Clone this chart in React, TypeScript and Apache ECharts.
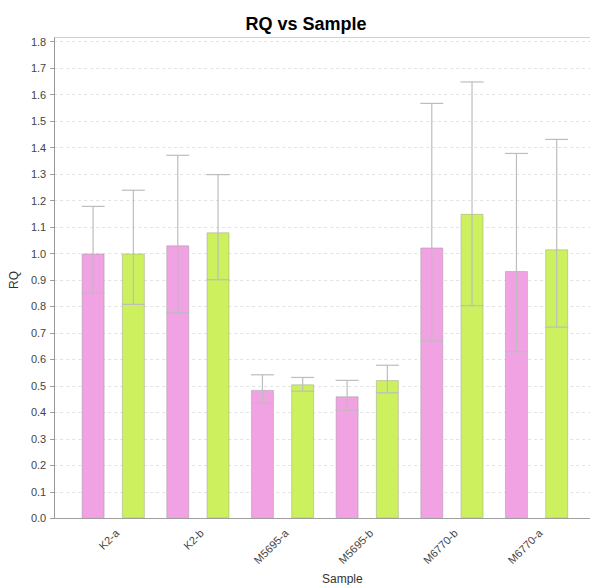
import React, { useEffect, useRef } from "react";
import * as echarts from "echarts";

// Samples on the category axis
const samples = ["K2-a", "K2-b", "M5695-a", "M5695-b", "M6770-b", "M6770-a"];

// First (pink) series: RQ with its lower / upper limits
const pinkRQ = [1.0, 1.031, 0.485, 0.461, 1.023, 0.934];
const pinkLow = [0.85, 0.776, 0.434, 0.409, 0.67, 0.629];
const pinkHigh = [1.178, 1.371, 0.542, 0.521, 1.567, 1.378];

// Second (green) series: RQ with its lower / upper limits
const greenRQ = [1.0, 1.08, 0.506, 0.522, 1.15, 1.016];
const greenLow = [0.808, 0.901, 0.48, 0.474, 0.803, 0.722];
const greenHigh = [1.239, 1.298, 0.532, 0.578, 1.648, 1.431];

// Value axis range
const yMin = 0;
const yMax = 1.8;
const yStep = 0.1;

const PINK = "#F0A2E2";
const GREEN = "#CDF15E";
const BAR_W = 23;
const BAR_GAP = 0.75;
const FONT = "'Liberation Sans', Arial, sans-serif";

const GRID_TOP = 41.7;
const GRID_BOTTOM = 66.7;

function errorBars(low: number[], high: number[], side: number) {
  return {
    type: "custom",
    xAxisIndex: 1,
    yAxisIndex: 1,
    z: 5,
    silent: true,
    data: samples.map((_, i) => [i, low[i], high[i]]),
    encode: { x: 0, y: [1, 2] },
    renderItem: (_params: any, api: any) => {
      const i = api.value(0);
      const lo = api.coord([i, api.value(1)]);
      const hi = api.coord([i, api.value(2)]);
      const x = lo[0] + side * (BAR_W * (1 + BAR_GAP)) / 2;
      const half = BAR_W / 2;
      const style = { stroke: "#bdbdbd", lineWidth: 1.2 };
      return {
        type: "group",
        children: [
          { type: "line", shape: { x1: x, y1: hi[1], x2: x, y2: lo[1] }, style },
          { type: "line", shape: { x1: x - half, y1: hi[1], x2: x + half, y2: hi[1] }, style },
          { type: "line", shape: { x1: x - half, y1: lo[1], x2: x + half, y2: lo[1] }, style },
        ],
      };
    },
  };
}

export default function App() {
  const ref = useRef<HTMLDivElement>(null);

  useEffect(() => {
    if (!ref.current) return;
    const chart = echarts.init(ref.current, undefined, { renderer: "svg" });

    chart.setOption({
      animation: false,
      backgroundColor: "#ffffff",
      title: {
        text: "RQ vs Sample",
        left: 301,
        top: 10,
        textAlign: "center",
        textStyle: { fontFamily: FONT, fontSize: 18, fontWeight: "bold", color: "#000" },
      },
      grid: [
        { left: 54, right: 0, top: GRID_TOP, bottom: GRID_BOTTOM, containLabel: false },
        { left: 70.9, width: 508, top: GRID_TOP, bottom: GRID_BOTTOM, containLabel: false },
      ],
      xAxis: [
        {
          type: "category",
          gridIndex: 0,
          data: samples,
          axisLine: { show: true, lineStyle: { color: "#a0a0a0", width: 1 } },
          axisTick: { show: false },
          axisLabel: { show: false },
          splitLine: { show: false },
        },
        {
          type: "category",
          gridIndex: 1,
          data: samples,
          axisLine: { show: false },
          axisTick: { show: false },
          axisLabel: {
            rotate: 45,
            margin: 9,
            verticalAlign: "top",
            fontFamily: FONT,
            fontSize: 11,
            color: "#444",
            interval: 0,
          },
          splitLine: { show: false },
        },
      ],
      yAxis: [
        {
          type: "value",
          gridIndex: 0,
          min: yMin,
          max: yMax,
          interval: yStep,
          name: "RQ",
          nameLocation: "middle",
          nameGap: 29,
          nameTextStyle: { fontFamily: FONT, fontSize: 12, color: "#333" },
          axisLine: { show: true, lineStyle: { color: "#999", width: 1 } },
          axisTick: { show: true, length: 4, lineStyle: { color: "#999" } },
          axisLabel: {
            fontFamily: FONT,
            fontSize: 11,
            color: "#444",
            margin: 8,
            formatter: (v: number) => v.toFixed(1),
          },
          splitLine: { show: true, lineStyle: { color: "#e2e2e2", type: [3, 3], width: 1 } },
        },
        {
          type: "value",
          gridIndex: 1,
          min: yMin,
          max: yMax,
          interval: yStep,
          show: false,
          splitLine: { show: false },
        },
      ],
      graphic: [
        {
          type: "line",
          shape: { x1: 54, y1: 37.5, x2: 590, y2: 37.5 },
          style: { stroke: "#cfcfcf", lineWidth: 1 },
          silent: true,
        },
        {
          type: "line",
          shape: { x1: 54.5, y1: 37.5, x2: 54.5, y2: GRID_TOP },
          style: { stroke: "#999", lineWidth: 1 },
          silent: true,
        },
        {
          type: "text",
          left: 322,
          top: 573,
          style: {
            text: "Sample",
            font: `12px ${FONT}`,
            fill: "#333",
            textAlign: "center",
          },
          silent: true,
        },
      ],
      series: [
        {
          type: "bar",
          xAxisIndex: 1,
          yAxisIndex: 1,
          data: pinkRQ,
          barWidth: BAR_W,
          barGap: `${BAR_GAP * 100}%`,
          itemStyle: { color: PINK, borderColor: "rgba(150,150,150,0.45)", borderWidth: 1 },
        },
        {
          type: "bar",
          xAxisIndex: 1,
          yAxisIndex: 1,
          data: greenRQ,
          barWidth: BAR_W,
          barGap: `${BAR_GAP * 100}%`,
          itemStyle: { color: GREEN, borderColor: "rgba(150,150,150,0.45)", borderWidth: 1 },
        },
        errorBars(pinkLow, pinkHigh, -1),
        errorBars(greenLow, greenHigh, 1),
      ],
    });

    return () => chart.dispose();
  }, []);

  return (
    <div
      ref={ref}
      style={{ position: "fixed", left: 0, top: 0, width: 590, height: 585 }}
    />
  );
}
